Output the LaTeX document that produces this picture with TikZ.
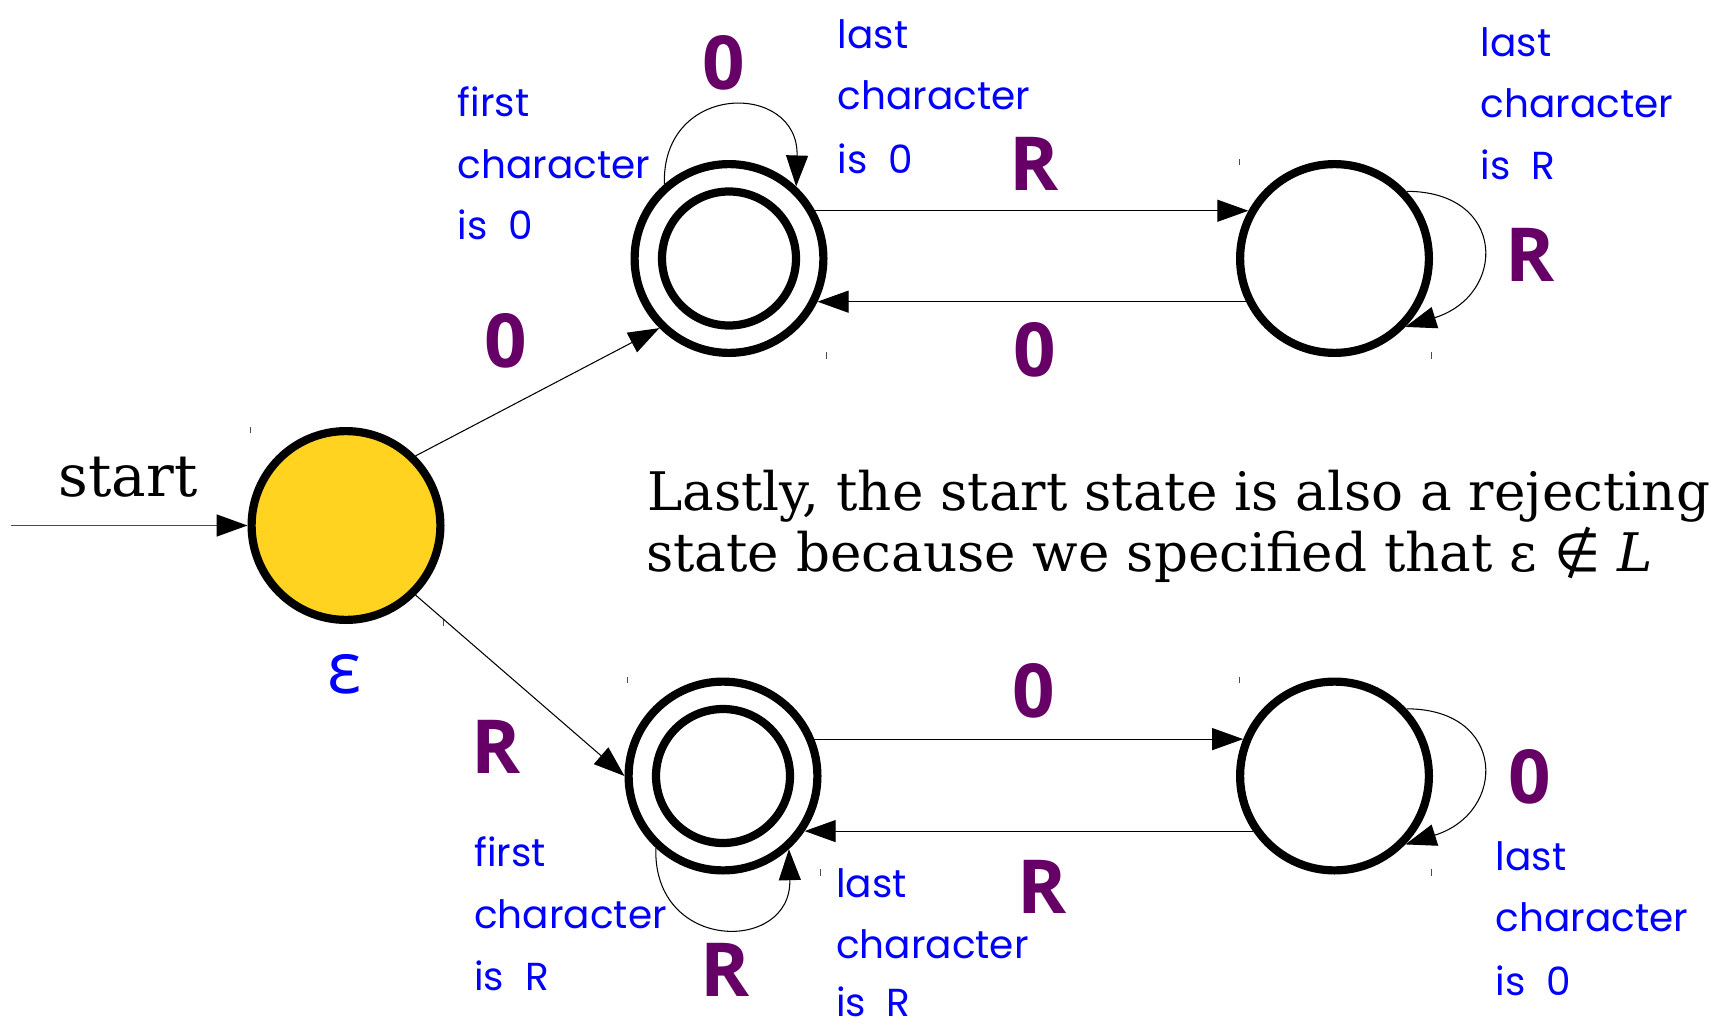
\documentclass[tikz,border=0pt]{standalone}
\usepackage{fontspec}
\setmainfont{DejaVu Serif}
\newfontfamily\lblfont{Open Sans}
\newfontfamily\handfont{Poppins}
\newfontfamily\dvsans{DejaVu Sans}
\usetikzlibrary{arrows.meta}
\definecolor{lblpurple}{HTML}{660066}
\definecolor{hblue}{HTML}{0000FF}
\definecolor{stfill}{HTML}{FFD320}
\begin{document}
\begin{tikzpicture}[x=0.1mm,y=-0.1mm,
  fa/.style={circle,draw=black,line width=0.82mm,minimum size=18.88mm,inner sep=0pt,fill=white},
  innerring/.style={line width=0.82mm},
  conn/.style={line width=0.3pt,-{Triangle[length=3.1mm,width=2.2mm]}},
  plab/.style={font={\lblfont\bfseries\fontsize{21.2pt}{24pt}\selectfont},text=lblpurple,inner sep=0pt,anchor=center},
  hnote/.style={font={\handfont\fontsize{11.1pt}{14pt}\selectfont},text=hblue,inner sep=0pt,anchor=base west},
  mtext/.style={font={\fontsize{15.12pt}{18pt}\selectfont},inner sep=0pt,anchor=base west},
  bbtick/.style={line width=0.1mm,black!70}
]
\fill[white] (0,0) rectangle (1722,1027);
\useasboundingbox (0,0) rectangle (1722,1027);

% states
\node[fa,fill=stfill] (S) at (346,525.5) {};
\node[fa] (A1) at (729,258.5) {};
\draw[innerring] (A1.center) circle[radius=6.7mm];
\node[fa] (B1) at (1334.5,258.5) {};
\node[fa] (A2) at (723,776) {};
\draw[innerring] (A2.center) circle[radius=6.7mm];
\node[fa] (B2) at (1334.5,776) {};

% bounding-box ticks
\draw[bbtick] (250.5,426.5) -- (250.5,432.5);
\draw[bbtick] (443,618.5) -- (443,625.5);
\draw[bbtick] (826,351.5) -- (826,358.5);
\draw[bbtick] (1239,159.5) -- (1239,165.5);
\draw[bbtick] (1431.5,351.5) -- (1431.5,358.5);
\draw[bbtick] (627.5,677) -- (627.5,683);
\draw[bbtick] (820,869) -- (820,876);
\draw[bbtick] (1239,677) -- (1239,683);
\draw[bbtick] (1431.5,869) -- (1431.5,876);

% start arrow
\coordinate (s0) at (11,525.5);
\draw[line width=0.45pt,draw=black!70,-{Triangle[length=3.1mm,width=2.2mm,color=black]}] (s0) -- (S.west);
\node[font={\fontsize{16.5pt}{20pt}\selectfont},anchor=base west,inner sep=0pt] (st) at (58,496.7) {start};

% transitions
\draw[conn] (S.45) -- (A1.225);
\draw[conn] (S.-45) -- (A2.180);
\draw[conn] (A1.29) -- (B1.151);
\draw[conn] (B1.-154) -- (A1.-26);
\draw[conn] (A2.22) -- (B2.158);
\draw[conn] (B2.-146) -- (A2.-34);
\draw[conn] (A1.131) .. controls +(-3,-103) and +(3,-105) .. (A1.47);
\draw[conn] (A2.-133) .. controls +(-3,105) and +(3,104) .. (A2.-48);
\draw[conn] (B1.43) .. controls +(100,0) and +(102,-32) .. (B1.-44);
\draw[conn] (B2.43) .. controls +(100,0) and +(102,-32) .. (B2.-44);

% transition labels
\node[plab] (l1) at (506,341) {0};
\node[plab] (l2) at (496,747) {R};
\node[plab] (l3) at (723.6,62.5) {0};
\node[plab] (l4) at (1034.5,164) {R};
\node[plab] (l5) at (1034.5,350) {0};
\node[plab] (l6) at (1530,255) {R};
\node[plab] (l7) at (1034,691) {0};
\node[plab] (l8) at (1042,887) {R};
\node[plab] (l9) at (1530,776.7) {0};
\node[plab] (l10) at (724.7,970) {R};

\node[font={\lblfont\fontsize{20.4pt}{24pt}\selectfont},text=hblue,inner sep=0pt] (eps) at (345,674) {ε};

% notes
\node[hnote] (n1a) at (457,116.7) {first};
\node[hnote] (n1b) at (457,178.3) {character};
\node[hnote] (n1c) at (457,240) {is\ \ 0};
\node[hnote] (n2a) at (837,48.3) {last};
\node[hnote] (n2b) at (837,110) {character};
\node[hnote] (n2c) at (837,173.3) {is\ \ 0};
\node[hnote] (n3a) at (1480,56.7) {last};
\node[hnote] (n3b) at (1480,117.3) {character};
\node[hnote] (n3c) at (1480,180) {is\ \ R};
\node[hnote] (n4a) at (473.6,866.7) {first};
\node[hnote] (n4b) at (473.6,928.3) {character};
\node[hnote] (n4c) at (473.6,990) {is\ \ R};
\node[hnote] (n5a) at (835.4,897) {last};
\node[hnote] (n5b) at (835.4,958) {character};
\node[hnote] (n5c) at (835.4,1016) {is\ \ R};
\node[hnote] (n6a) at (1495,870) {last};
\node[hnote] (n6b) at (1495,931.7) {character};
\node[hnote] (n6c) at (1495,995) {is\ \ 0};

% explanation
\node[mtext] (t1) at (646.5,510) {Lastly, the start state is also a rejecting};
\node[mtext] (t2) at (645.5,571.7) {state because we specified that ε {\dvsans ∉} \textit{L}};
\end{tikzpicture}
\end{document}
